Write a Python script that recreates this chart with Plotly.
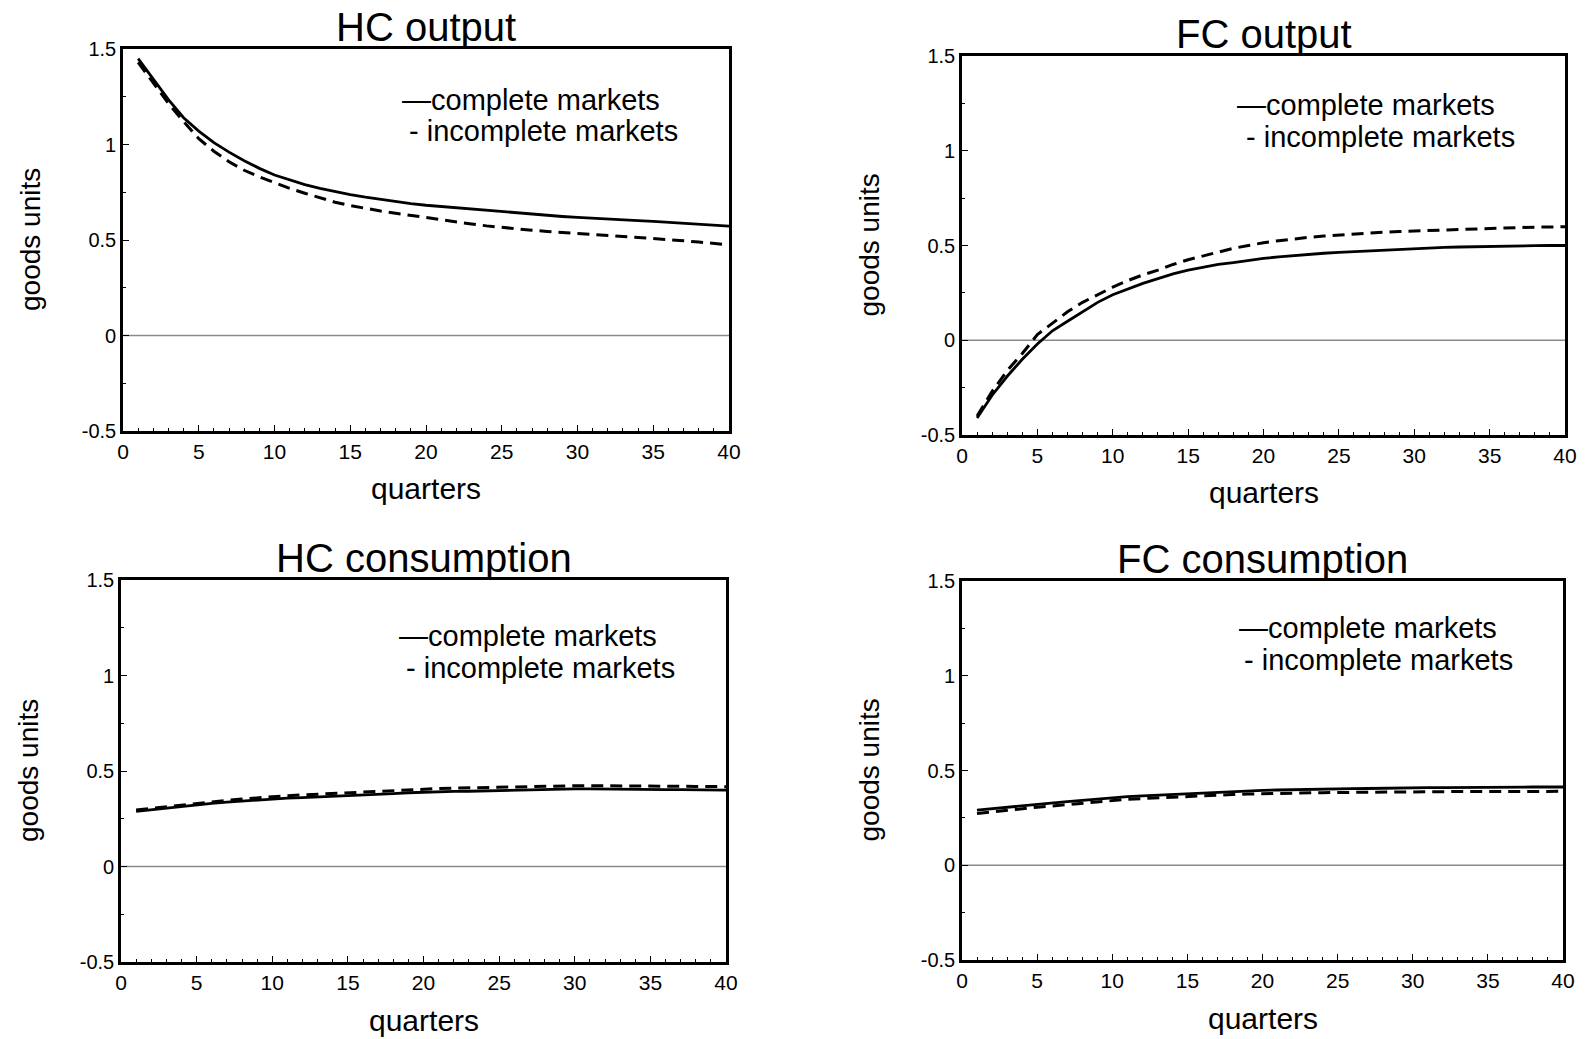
import plotly.graph_objects as go

quarters = list(range(1, 41))

hc_output_complete = [1.45, 1.34, 1.235, 1.14, 1.07, 1.01, 0.96, 0.915, 0.875, 0.84,
                      0.815, 0.79, 0.77, 0.752, 0.737, 0.724, 0.712, 0.701, 0.691, 0.682,
                      0.675, 0.668, 0.661, 0.654, 0.647, 0.641, 0.635, 0.629, 0.623, 0.618,
                      0.613, 0.609, 0.605, 0.601, 0.597, 0.593, 0.588, 0.583, 0.578, 0.573]
hc_output_incomplete = [1.43, 1.32, 1.215, 1.12, 1.03, 0.965, 0.91, 0.865, 0.83, 0.80,
                        0.77, 0.745, 0.72, 0.698, 0.68, 0.665, 0.652, 0.64, 0.628, 0.617,
                        0.606, 0.595, 0.584, 0.574, 0.565, 0.558, 0.551, 0.545, 0.539, 0.533,
                        0.528, 0.523, 0.518, 0.513, 0.508, 0.502, 0.496, 0.489, 0.482, 0.475]

fc_output_complete = [-0.41, -0.29, -0.19, -0.10, -0.02, 0.05, 0.10, 0.15, 0.20, 0.24,
                      0.27, 0.30, 0.325, 0.35, 0.37, 0.385, 0.40, 0.41, 0.422, 0.432,
                      0.44, 0.447, 0.453, 0.459, 0.464, 0.468, 0.472, 0.476, 0.48, 0.484,
                      0.487, 0.49, 0.492, 0.494, 0.496, 0.497, 0.498, 0.499, 0.5, 0.5]
fc_output_incomplete = [-0.40, -0.27, -0.16, -0.07, 0.03, 0.09, 0.15, 0.20, 0.24, 0.28,
                        0.315, 0.345, 0.37, 0.40, 0.425, 0.445, 0.465, 0.485, 0.50, 0.515,
                        0.525, 0.535, 0.543, 0.55, 0.556, 0.561, 0.566, 0.57, 0.574, 0.577,
                        0.58, 0.583, 0.586, 0.589, 0.591, 0.593, 0.595, 0.597, 0.598, 0.599]

hc_cons_complete = [0.289, 0.298, 0.307, 0.316, 0.324, 0.331, 0.337, 0.343, 0.349, 0.354,
                    0.358, 0.361, 0.364, 0.368, 0.371, 0.375, 0.379, 0.382, 0.386, 0.389,
                    0.391, 0.393, 0.394, 0.396, 0.397, 0.399, 0.401, 0.402, 0.404, 0.406,
                    0.406, 0.406, 0.405, 0.405, 0.404, 0.403, 0.402, 0.401, 0.401, 0.400]
hc_cons_incomplete = [0.296, 0.305, 0.314, 0.323, 0.331, 0.339, 0.346, 0.353, 0.360, 0.366,
                      0.371, 0.375, 0.379, 0.383, 0.387, 0.391, 0.395, 0.399, 0.403, 0.406,
                      0.408, 0.410, 0.412, 0.414, 0.416, 0.417, 0.419, 0.420, 0.422, 0.423,
                      0.423, 0.423, 0.422, 0.422, 0.421, 0.421, 0.420, 0.419, 0.419, 0.418]

fc_cons_complete = [0.291, 0.299, 0.307, 0.315, 0.322, 0.329, 0.336, 0.342, 0.350, 0.357,
                    0.362, 0.366, 0.370, 0.374, 0.378, 0.382, 0.385, 0.389, 0.392, 0.395,
                    0.397, 0.399, 0.400, 0.402, 0.403, 0.404, 0.405, 0.407, 0.408, 0.409,
                    0.410, 0.410, 0.411, 0.411, 0.412, 0.412, 0.412, 0.413, 0.413, 0.413]
fc_cons_incomplete = [0.273, 0.282, 0.290, 0.298, 0.306, 0.313, 0.320, 0.327, 0.335, 0.343,
                      0.348, 0.352, 0.356, 0.360, 0.363, 0.367, 0.370, 0.373, 0.376, 0.378,
                      0.380, 0.381, 0.382, 0.383, 0.384, 0.385, 0.386, 0.387, 0.388, 0.388,
                      0.388, 0.389, 0.389, 0.389, 0.389, 0.390, 0.390, 0.390, 0.390, 0.390]

panel_titles = ["HC output", "FC output", "HC consumption", "FC consumption"]
legend_labels = ["complete markets", "incomplete markets"]
x_title = "quarters"
y_title = "goods units"
x_ticks = [0, 5, 10, 15, 20, 25, 30, 35, 40]
y_ticks = [-0.5, 0, 0.5, 1, 1.5]
y_tick_text = ["-0.5", "0", "0.5", "1", "1.5"]

W, H = 1585, 1039
FONT = "Liberation Sans"

# panel boxes in pixels: left, right, top, bottom
boxes = [(123, 729, 49, 431), (962, 1565, 56, 435), (121, 726, 580, 962), (962, 1563, 581, 960)]
series = [(hc_output_complete, hc_output_incomplete), (fc_output_complete, fc_output_incomplete),
          (hc_cons_complete, hc_cons_incomplete), (fc_cons_complete, fc_cons_incomplete)]
legend_pos = [(400, 100, 407, 131), (1235, 105, 1244, 137), (397, 636, 404, 668), (1237, 628, 1242, 660)]

fig = go.Figure()
layout = dict(width=W, height=H, margin=dict(l=0, r=0, t=0, b=0, autoexpand=False),
              plot_bgcolor="white", paper_bgcolor="white", showlegend=False,
              font=dict(family=FONT, color="black"))
annotations = []

for i, ((l, r, t, b), (comp, incomp)) in enumerate(zip(boxes, series)):
    n = "" if i == 0 else str(i + 1)
    xa, ya = "x" + n, "y" + n
    fig.add_trace(go.Scatter(x=[0, 40], y=[0, 0], mode="lines", xaxis=xa, yaxis=ya,
                             line=dict(color="#8a8a8a", width=1.3), hoverinfo="skip"))
    fig.add_trace(go.Scatter(x=quarters, y=incomp, mode="lines", xaxis=xa, yaxis=ya,
                             name=legend_labels[1], line=dict(color="black", width=3.0, dash="12px,7px")))
    fig.add_trace(go.Scatter(x=quarters, y=comp, mode="lines", xaxis=xa, yaxis=ya,
                             name=legend_labels[0], line=dict(color="black", width=2.8)))
    layout["xaxis" + n] = dict(domain=[l / W, r / W], anchor=ya, range=[0, 40], tickvals=x_ticks,
                               ticks="inside", ticklen=6, tickwidth=1.2, tickcolor="black",
                               showline=True, linecolor="black", linewidth=2.6, mirror=True,
                               showgrid=False, zeroline=False, automargin=False,
                               minor=dict(ticks="inside", dtick=1, ticklen=3, tickcolor="black", showgrid=False),
                               tickfont=dict(size=21, family=FONT))
    layout["yaxis" + n] = dict(domain=[1 - b / H, 1 - t / H], anchor=xa, range=[-0.5, 1.5],
                               tickvals=y_ticks, ticktext=y_tick_text,
                               ticks="inside", ticklen=6, tickwidth=1.2, tickcolor="black",
                               showline=True, linecolor="black", linewidth=2.6, mirror=True,
                               showgrid=False, zeroline=False, automargin=False,
                               minor=dict(ticks="inside", dtick=0.25, ticklen=3, tickcolor="black", showgrid=False),
                               tickfont=dict(size=20, family=FONT))
    # panel title
    annotations.append(dict(text=panel_titles[i], x=(l + r) / 2 / W, y=1 - (t - 22) / H,
                            xref="paper", yref="paper", showarrow=False,
                            font=dict(size=40, family=FONT), xanchor="center", yanchor="middle"))
    # axis titles
    annotations.append(dict(text=x_title, x=(l + r) / 2 / W, y=1 - (b + 58) / H,
                            xref="paper", yref="paper", showarrow=False,
                            font=dict(size=30, family=FONT), xanchor="center", yanchor="middle"))
    annotations.append(dict(text=y_title, x=(l - 93) / W, y=1 - (t + b) / 2 / H, textangle=-90,
                            xref="paper", yref="paper", showarrow=False,
                            font=dict(size=28, family=FONT), xanchor="center", yanchor="middle"))
    # in-plot legend text
    lx1, ly1, lx2, ly2 = legend_pos[i]
    annotations.append(dict(text="\u2014" + legend_labels[0], x=lx1 / W, y=1 - ly1 / H,
                            xref="paper", yref="paper", showarrow=False,
                            font=dict(size=29, family=FONT), xanchor="left", yanchor="middle"))
    annotations.append(dict(text="- " + legend_labels[1], x=lx2 / W, y=1 - ly2 / H,
                            xref="paper", yref="paper", showarrow=False,
                            font=dict(size=29, family=FONT), xanchor="left", yanchor="middle"))

layout["annotations"] = annotations
fig.update_layout(**layout)
fig.write_html("out.html")
